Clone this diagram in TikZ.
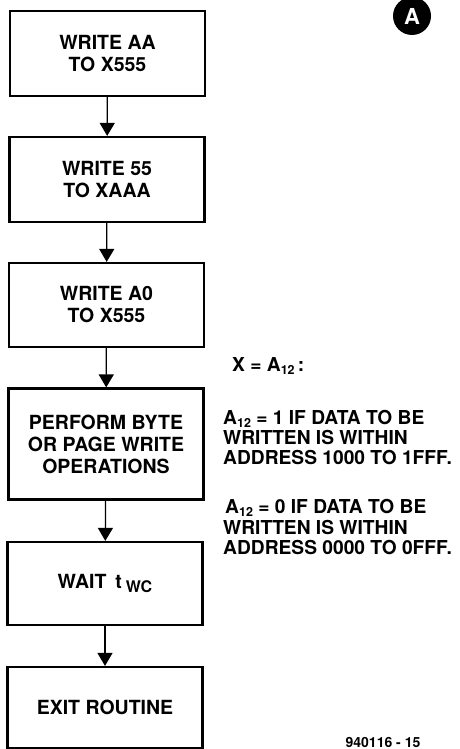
\documentclass[tikz,border=0pt]{standalone}
\usepackage{fontspec}
\setmainfont{TeX Gyre Heros}
\usetikzlibrary{arrows.meta}
\tikzset{
  flowbox/.style={draw, line width=2.2pt, minimum width=195pt, inner sep=0pt, align=center,
    font=\bfseries\fontsize{19.5}{22}\selectfont},
  flowarrow/.style={line width=1.3pt, -{Triangle[width=15pt,length=13pt]}},
  sidetext/.style={anchor=base west, inner sep=0pt, font=\bfseries\fontsize{19.2}{21}\selectfont},
}
\newcommand{\subtw}{\raisebox{-2.5pt}{\fontsize{12.5}{12.5}\selectfont 12}}
\begin{document}
\begin{tikzpicture}[x=1pt,y=-1pt]
\useasboundingbox (0,0) rectangle (460,749);
\node[flowbox, minimum height=85pt] (b1) at (107.5,53.5) {WRITE AA\\TO X555};
\node[flowbox, minimum height=85pt] (b2) at (107,179.5) {WRITE 55\\TO XAAA};
\node[flowbox, minimum height=84pt] (b3) at (106.5,305) {WRITE A0\\TO X555};
\node[flowbox, minimum height=111pt] (b4) at (106,444) {PERFORM BYTE\\OR PAGE WRITE\\OPERATIONS};
\node[flowbox, minimum height=83pt] (b5) at (105,583.5) {WAIT\hspace{9pt}t\hspace{4pt}\raisebox{-4pt}{\fontsize{16}{16}\selectfont WC}};
\node[flowbox, minimum height=81pt] (b6) at (105,707.5) {EXIT ROUTINE};
\draw[flowarrow] (b1) -- (b2);
\draw[flowarrow] (b2) -- (b3);
\draw[flowarrow] (b3) -- (b4);
\draw[flowarrow] (b4) -- (b5);
\draw[flowarrow] (b5) -- (b6);
\node[sidetext] (t1) at (232,371.5) {X = A\subtw\,:};
\node[sidetext] (t2) at (223,424.5) {A\subtw\ = 1 IF DATA TO BE};
\node[sidetext] (t3) at (223,444.5) {WRITTEN IS WITHIN};
\node[sidetext] (t4) at (223,464.5) {ADDRESS 1000 TO 1FFF.};
\node[sidetext] (t5) at (225,513.5) {A\subtw\ = 0 IF DATA TO BE};
\node[sidetext] (t6) at (223,534) {WRITTEN IS WITHIN};
\node[sidetext] (t7) at (223,554.5) {ADDRESS 0000 TO 0FFF.};
\node[circle, fill=black, minimum size=38pt, inner sep=0pt, text=white,
  font=\bfseries\fontsize{22}{22}\selectfont] (c) at (412,16) {A};
\node[font=\bfseries\fontsize{14}{14}\selectfont, inner sep=0pt] (n) at (383,742) {940116 - 15};
\end{tikzpicture}
\end{document}
